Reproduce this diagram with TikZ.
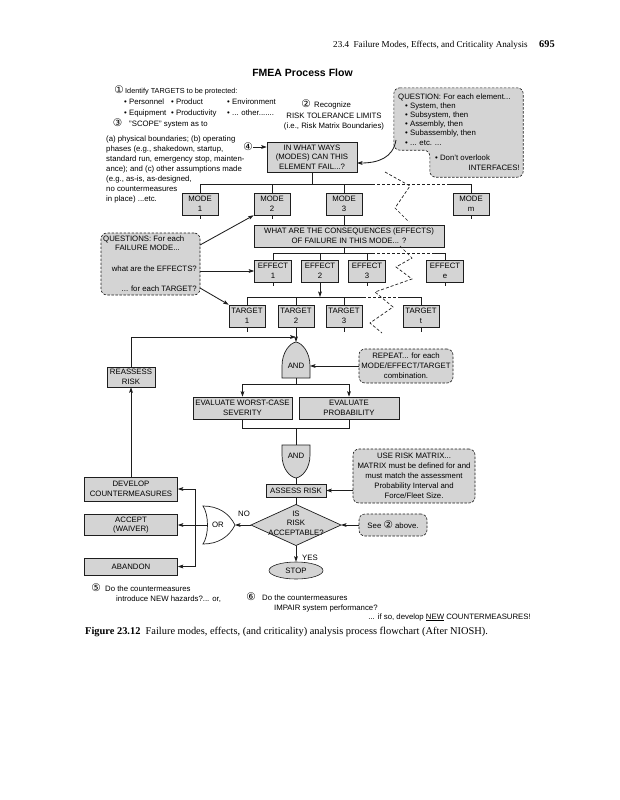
\documentclass[tikz,border=0pt]{standalone}
\usepackage{fontspec}
\setmainfont{Liberation Sans}
\newfontfamily\seriffont{Liberation Serif}
\newfontfamily\djv{DejaVu Sans}
\usetikzlibrary{arrows.meta,shapes.geometric,calc}
\definecolor{bx}{RGB}{212,212,212}
\definecolor{ln}{RGB}{30,30,30}
\newcommand\cnum[1]{{\djv\fontsize{10.5}{10.5}\selectfont #1}}
\begin{document}
\begin{tikzpicture}[x=1pt,y=-1pt,
  font=\fontsize{7.8}{9.6}\selectfont,
  conn/.style={draw=ln,line width=0.85pt},
  arr/.style={conn,-{Stealth[length=5.5pt,width=3.8pt,inset=1.2pt]}},
  box/.style={draw=ln,fill=bx,line width=0.6pt,inner sep=1pt,align=center},
  note/.style={draw=ln,fill=bx,line width=0.6pt,dash pattern=on 2.5pt off 1.5pt,rounded corners=6pt},
  gate/.style={draw=ln,fill=bx,line width=0.7pt},
  brk/.style={draw=ln,line width=0.7pt,dash pattern=on 3pt off 2pt},
  txt/.style={inner sep=0pt,anchor=base west},
  txtr/.style={inner sep=0pt,anchor=base east},
  txtc/.style={inner sep=0pt,anchor=base},
]
\fill[white] (0,0) rectangle (619,800);
\useasboundingbox (0,0) rectangle (619,800);

% header and title
\node[txt,font=\seriffont\fontsize{9.1}{11}\selectfont] (hdr) at (333,48) {23.4\enspace Failure Modes, Effects, and Criticality Analysis};
\node[txt,font=\seriffont\bfseries\fontsize{10.3}{12}\selectfont] (pg) at (539,48) {695};
\node[txtc,font=\bfseries\fontsize{10.5}{12}\selectfont] (title) at (302.5,77) {FMEA Process Flow};

% top-left notes
\node[inner sep=0pt] (c1) at (119,90) {\cnum{①}};
\node[txt,font=\fontsize{7.3}{9}\selectfont] (l1) at (125,93) {Identify TARGETS to be protected:};
\node[txt] (b1) at (124,104) {• Personnel};
\node[txt] (b2) at (171,104) {• Product};
\node[txt] (b3) at (227,104) {• Environment};
\node[txt] (b4) at (124,115) {• Equipment};
\node[txt] (b5) at (171,115) {• Productivity};
\node[txt] (b6) at (227,115) {• ... other.......};
\node[inner sep=0pt] (c3) at (117.5,123) {\cnum{③}};
\node[txt] (l3) at (129,126) {"SCOPE" system as to};
\node[txt] (sc1) at (106,141) {(a) physical boundaries; (b) operating};
\node[txt] (sc2) at (106,151) {phases (e.g., shakedown, startup,};
\node[txt] (sc3) at (106,161) {standard run, emergency stop, mainten-};
\node[txt] (sc4) at (106,171) {ance); and (c) other assumptions made};
\node[txt] (sc5) at (106,181) {(e.g., as-is, as-designed,};
\node[txt] (sc6) at (106,191) {no countermeasures};
\node[txt] (sc7) at (106,201) {in place) ...etc.};

% top-middle notes
\node[inner sep=0pt] (c2) at (306,104) {\cnum{②}};
\node[txt] (l2) at (314,107) {Recognize};
\node[txtc] (l2b) at (334,118) {RISK TOLERANCE LIMITS};
\node[txtc] (l2c) at (334,128) {(i.e., Risk Matrix Boundaries)};

% QUESTION box (union of two rounded boxes)
\node[inner sep=0pt,minimum width=129,minimum height=62] (qbox) at (458.5,119) {};
\node[inner sep=0pt,minimum width=93,minimum height=29] (dbox) at (476.5,162.5) {};
\draw[note] (qbox.north west) -- (qbox.north east) -- (dbox.south east) -- (dbox.south west) -- (dbox.west |- qbox.south) -- (qbox.south west) -- cycle;
\node[txt] (q1) at (398,99) {QUESTION: For each element...};
\node[txt] (q2) at (405,108.2) {• System, then};
\node[txt] (q3) at (405,117.4) {• Subsystem, then};
\node[txt] (q4) at (405,126.6) {• Assembly, then};
\node[txt] (q5) at (405,135.8) {• Subassembly, then};
\node[txt] (q6) at (405,145) {• ... etc. ...};
\node[txt] (d1) at (435,160) {• Don’t overlook};
\node[txtr] (d2) at (520,170) {INTERFACES!};

% ways box
\node[inner sep=0pt] (c4) at (248,147) {\cnum{④}};
\node[box,minimum width=90,minimum height=30] (ways) at (312,157) {IN WHAT WAYS\\(MODES) CAN THIS\\ELEMENT FAIL...?};
\draw[arr] (c4.east) -- (c4.east -| ways.west);
\coordinate (qs) at (396,140);
\coordinate (we) at (357,163);
\draw[arr] (qs) .. controls (393,158) and (378,163) .. (we);

% modes
\node[box,minimum width=36,minimum height=22] (m1) at (200,204) {MODE\\1};
\node[box,minimum width=36,minimum height=22] (m2) at (272,204) {MODE\\2};
\node[box,minimum width=36,minimum height=22] (m3) at (344,204) {MODE\\3};
\node[box,minimum width=36,minimum height=22] (mm) at (471,204) {MODE\\m};
\coordinate (mbL) at (372,184);
\coordinate (mbR) at (447,184);
\draw[conn] (ways.south) -- (ways.south |- mbL);
\draw[conn] (m1.north) |- (mbL);
\draw[brk] (mbL) -- (mbR);
\draw[conn] (mbR) -| (mm.north);
\draw[conn] (m2.north) -- (m2.north |- mbL);
\draw[conn] (m3.north) -- (m3.north |- mbL);
\draw[conn] (m1.south) -- ++(0,4);
\draw[conn] (m2.south) -- ++(0,4);
\draw[conn] (mm.south) -- ++(0,4);

% consequences
\node[box,minimum width=190,minimum height=22] (cons) at (349,236) {WHAT ARE THE CONSEQUENCES (EFFECTS)\\OF FAILURE IN THIS MODE... ?};
\draw[conn] (m3.south) -- (m3.south |- cons.north);

% effects
\node[box,minimum width=37,minimum height=22] (e1) at (273,271) {EFFECT\\1};
\node[box,minimum width=37,minimum height=22] (e2) at (320,271) {EFFECT\\2};
\node[box,minimum width=37,minimum height=22] (e3) at (367,271) {EFFECT\\3};
\node[box,minimum width=37,minimum height=22] (ee) at (445,271) {EFFECT\\e};
\coordinate (ebL) at (372,253);
\coordinate (ebR) at (432,253);
\draw[conn] (m3.south |- cons.south) -- (m3.south |- ebL);
\draw[conn] (e1.north) |- (ebL);
\draw[brk] (ebL) -- (ebR);
\draw[conn] (ebR) -| (ee.north);
\draw[conn] (e2.north) -- (e2.north |- ebL);
\draw[conn] (e3.north) -- (e3.north |- ebL);
\draw[conn] (e1.south) -- ++(0,4);
\draw[conn] (e3.south) -- ++(0,4);
\draw[conn] (ee.south) -- ++(0,4);

% targets
\node[box,minimum width=36,minimum height=22] (t1) at (247,316) {TARGET\\1};
\node[box,minimum width=36,minimum height=22] (t2) at (296,316) {TARGET\\2};
\node[box,minimum width=36,minimum height=22] (t3) at (344,316) {TARGET\\3};
\node[box,minimum width=36,minimum height=22] (tt) at (421,316) {TARGET\\t};
\coordinate (tbL) at (363,297);
\coordinate (tbR) at (399,297);
\draw[arr] (e2.south) -- (e2.south |- tbL);
\draw[conn] (t1.north) |- (tbL);
\draw[brk] (tbL) -- (tbR);
\draw[conn] (tbR) -| (tt.north);
\draw[conn] (t2.north) -- (t2.north |- tbL);
\draw[conn] (t3.north) -- (t3.north |- tbL);
\draw[conn] (t1.south) -- ++(0,5);
\draw[conn] (t3.south) -- ++(0,5);
\draw[conn] (tt.south) -- ++(0,5);

% break zigzags
\draw[brk] (385,172) -- (410,186) -- (395,208) -- (409,222);
\draw[brk] (400,246) -- (412,258) -- (396,267) -- (412,279) -- (375,292) -- (393,307) -- (370,323) -- (382,333);

% QUESTIONS note
\node[note,minimum width=99,minimum height=62] (qq) at (150.5,264) {};
\node[txt] (qq1) at (103,241) {QUESTIONS: For each};
\node[txt] (qq2) at (115,250) {FAILURE MODE...};
\node[txtr] (qq3) at (197,271) {what are the EFFECTS?};
\node[txtr] (qq4) at (197,291) {... for each TARGET?};
\coordinate (qqa) at (200,245);
\coordinate (qqb) at (200,288);
\draw[arr] (qqa) -- (m2.south west);
\draw[arr] (e1.west -| qq.east) -- (e1.west);
\draw[arr] (qqb) -- (t1.north west);

% AND gate 1
\draw[gate] (282,378) -- (282,366) .. controls (282,352) and (290,343) .. (296,342) .. controls (302,343) and (310,352) .. (310,366) -- (310,378) -- cycle;
\node[inner sep=0pt] (and1) at (296,366) {AND};
\coordinate (g1t) at (296,342);
\coordinate (g1r) at (310,366);
\coordinate (g1b) at (296,378);
\draw[arr] (t2.south) -- (g1t);
\node[note,minimum width=94,minimum height=34,align=center,inner sep=1pt,font=\fontsize{7.8}{10}\selectfont] (rep) at (406,366) {REPEAT... for each\\MODE/EFFECT/TARGET\\combination.};
\draw[arr] (rep.west) -- (g1r);

% reassess feedback
\node[box,minimum width=48,minimum height=20] (rea) at (131,377) {REASSESS\\RISK};
\coordinate (fb) at (296,337);
\draw[arr,shorten >=0.4pt] (rea.north) |- (fb);

% evaluate
\node[box,minimum width=99,minimum height=22] (ev1) at (242.5,408) {EVALUATE WORST-CASE\\SEVERITY};
\node[box,minimum width=100,minimum height=22] (ev2) at (349,408) {EVALUATE\\PROBABILITY};
\draw[arr] (g1b) -- ++(0,6) -| (ev1.north);
\draw[arr] (g1b) -- ++(0,6) -| (ev2.north);

% AND gate 2
\draw[gate] (282,445) -- (282,455) .. controls (282,469) and (290,477) .. (296,478) .. controls (302,477) and (310,469) .. (310,455) -- (310,445) -- cycle;
\node[inner sep=0pt] (and2) at (296,456) {AND};
\coordinate (g2t) at (296,445);
\coordinate (g2b) at (296,478);
\coordinate (j2) at (296,428);
\draw[conn] (ev1.south) |- (j2) -- (g2t);
\draw[conn] (ev2.south) |- (j2);

% assess
\node[box,minimum width=60,minimum height=13] (ass) at (296,490.5) {ASSESS RISK};
\draw[conn] (g2b) -- (ass.north);
\node[note,minimum width=122,minimum height=54,align=center,inner sep=1pt,font=\fontsize{7.8}{10}\selectfont] (mat) at (414,476) {USE RISK MATRIX...\\MATRIX must be defined for and\\must match the assessment\\Probability Interval and\\Force/Fleet Size.};
\draw[arr] (mat.west |- ass.east) -- (ass.east);

% decision diamond
\coordinate (diaN) at (296,504.5);
\coordinate (diaE) at (341,525);
\coordinate (diaS) at (296,545.5);
\coordinate (diaW) at (251,525);
\draw[gate] (diaN) -- (diaE) -- (diaS) -- (diaW) -- cycle;
\node[inner sep=0pt,align=center,font=\fontsize{7.8}{9.6}\selectfont] (dia) at (296,523) {IS\\RISK\\ACCEPTABLE?};
\draw[conn] (ass.south) -- (diaN);
\node[note,minimum width=68,minimum height=22,inner sep=1pt] (see) at (393,525) {See \cnum{②} above.};
\draw[arr] (see.west) -- (diaE);

% OR gate
\draw[draw=ln,fill=white,line width=0.7pt] (203,506) .. controls (209,515) and (209,535) .. (203,544) .. controls (218,544) and (229,537) .. (235,525) .. controls (229,513) and (218,506) .. (203,506) -- cycle;
\node[inner sep=0pt] (or) at (218,525) {OR};
\coordinate (orR) at (235,525);
\coordinate (orL) at (207.5,525);
\draw[arr] (diaW) -- (orR);
\node[txtc] (no) at (244,516) {NO};

% actions
\node[box,minimum width=93,minimum height=24] (dev) at (131,489) {DEVELOP\\COUNTERMEASURES};
\node[box,minimum width=93,minimum height=21] (acc) at (131,525) {ACCEPT\\(WAIVER)};
\node[box,minimum width=93,minimum height=17] (aba) at (131,566.5) {ABANDON};
\draw[arr] (dev.north) -- (rea.south);
\draw[arr] (orL) -- (acc.east);
\coordinate (jn) at (195,525);
\draw[arr] (jn) |- (dev.east);
\draw[arr] (jn) |- (aba.east);

% stop
\node[ellipse,draw=ln,fill=bx,line width=0.6pt,minimum width=54,minimum height=17,inner sep=0pt] (stop) at (296,570.5) {STOP};
\draw[arr] (diaS) -- (stop.north);
\node[txt] (yes) at (302,560) {YES};

% footer notes
\node[inner sep=0pt] (c5) at (96,588) {\cnum{⑤}};
\node[txt] (f1) at (105,591) {Do the countermeasures};
\node[txt] (f2) at (116,601) {introduce NEW hazards?... or,};
\node[inner sep=0pt] (c6) at (251,597) {\cnum{⑥}};
\node[txt] (f3) at (262,600) {Do the countermeasures};
\node[txt] (f4) at (274,610) {IMPAIR system performance?};
\node[txtr] (f5) at (531,619) {... if so, develop \underline{NEW} COUNTERMEASURES!};

% caption
\node[txt,font=\seriffont\fontsize{10.4}{12}\selectfont] (cap) at (85,634) {\textbf{Figure 23.12}\enspace Failure modes, effects, (and criticality) analysis process flowchart (After NIOSH).};
\end{tikzpicture}
\end{document}
